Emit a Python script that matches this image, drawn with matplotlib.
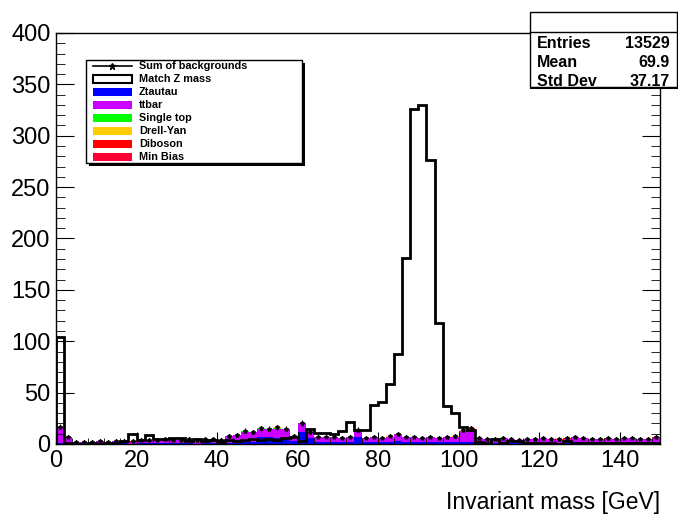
import numpy as np
import matplotlib
matplotlib.use("Agg")
import matplotlib.pyplot as plt
from matplotlib.patches import Rectangle
from matplotlib.lines import Line2D

plt.rcParams['font.family'] = ['Liberation Sans', 'DejaVu Sans']

# binning: 75 bins of 2 GeV from 0 to 150
edges = np.arange(0, 152, 2)

# signal histogram (Match Z mass)
match_z = [104, 1, 0, 0, 1, 0, 1, 1, 3, 10,
           4, 9, 5, 5, 6, 6, 3, 5, 3, 4,
           2, 4, 3, 4, 5, 4, 5, 4, 6, 7,
           3, 15, 11, 11, 10, 13, 21, 14, 14, 38,
           41, 58, 88, 181, 326, 330, 276, 118, 37, 30,
           17, 14, 2, 1, 5, 1, 3, 3, 1, 1,
           1, 1, 0, 3, 1, 1, 1, 1, 1, 1,
           1, 1, 1, 1, 1]

# background components, bottom of the stack first
ztautau = [1, 0, 0, 0, 0, 1, 0, 1, 1, 0,
           1, 1, 1, 1, 1, 1, 1, 0, 1, 1,
           1, 1, 1, 2, 2, 7, 7, 6, 6, 3,
           12, 6, 2, 2, 2, 2, 2, 7, 2, 2,
           2, 2, 3, 2, 2, 2, 2, 2, 2, 2,
           2, 2, 2, 1, 1, 2, 1, 1, 1, 1,
           1, 1, 1, 1, 2, 1, 1, 1, 1, 1,
           1, 2, 1, 1, 1]
ttbar = [15, 6, 2, 2, 2, 2, 2, 2, 2, 2,
         3, 3, 3, 4, 3, 3, 4, 4, 4, 4,
         3, 7, 8, 10, 10, 8, 8, 9, 9, 5,
         8, 6, 5, 5, 5, 4, 5, 7, 4, 5,
         4, 5, 7, 5, 5, 4, 5, 4, 5, 5,
         11, 12, 4, 4, 4, 4, 4, 3, 4, 4,
         5, 4, 3, 4, 5, 5, 4, 4, 4, 4,
         5, 4, 4, 4, 5]
single_top = [0, 0, 0, 0, 0, 0, 0, 0, 0, 0,
              0, 0, 0, 0, 0, 0, 0, 0, 0, 0,
              0.3, 0, 0, 1, 0, 0.5, 0, 0.3, 0, 0,
              0, 0, 0, 0, 0, 0, 0, 0, 0, 0,
              0.3, 0, 0, 0, 0, 0, 0, 0, 0, 0,
              0, 0, 0, 0, 0, 0, 0, 0, 0, 0,
              0, 0, 0, 0, 0, 0, 0, 0, 0, 0,
              0, 0, 0, 0, 0]
drell_yan = [0, 0, 0, 0, 0, 0, 0, 0, 0, 0,
             0, 0, 0, 0, 0, 0, 0, 0, 0, 0,
             0, 0, 0, 0, 0, 0, 0, 1, 0, 0,
             0.3, 0, 0, 0, 0, 0, 0, 0, 0, 0,
             0, 0.7, 0, 0, 0, 0, 0, 0, 0, 0.6,
             0.5, 0, 0, 0, 0, 0, 0, 0, 0, 0,
             0, 0, 0, 0, 0, 0, 0, 0, 0, 0,
             0, 0, 0, 0, 0]
diboson = [0, 1, 0, 0, 0, 0, 0, 0, 0, 0.7,
           0, 0, 0, 0, 0, 0, 0, 0, 0, 0,
           0, 0, 0, 0, 0, 0, 0, 0, 0, 0,
           0, 0, 0, 0, 0, 0, 0, 0, 0, 0,
           0, 0.5, 0, 0, 0, 0, 0, 0, 0, 0,
           0, 1.5, 0, 0, 0, 0, 0, 0, 0, 0,
           0, 0, 0.7, 1, 0, 0, 0, 0, 0.7, 0,
           0, 0, 0, 0, 0.7]
min_bias = [1, 0, 0, 0, 0, 0, 0, 0, 0, 0,
            0, 0, 0, 0, 0, 0, 0, 0, 0, 0,
            0, 0, 0, 0, 0, 0, 0, 0, 0, 0,
            0, 0, 0, 0, 0, 0, 0, 0, 0, 0,
            0, 0, 0, 0, 0, 0, 0, 0, 0, 0,
            0, 0, 0, 0, 0, 0, 0, 0, 0, 0,
            0, 0, 0, 0, 0, 0, 0, 0, 0, 0,
            0, 0, 0, 0, 0]

bkg_names = ["Ztautau", "ttbar", "Single top", "Drell-Yan", "Diboson", "Min Bias"]
bkg_values = [ztautau, ttbar, single_top, drell_yan, diboson, min_bias]
bkg_colors = ["#0000ff", "#cc00ff", "#00ff00", "#ffcc00", "#ff0000", "#ff0033"]

stats_labels = ["Entries", "Mean", "Std Dev"]
stats_values = ["13529", "69.9", "37.17"]

W, H = 678, 514
fig = plt.figure(figsize=(W / 100, H / 100), dpi=100)
ax = fig.add_axes([56 / W, 1 - 444 / H, 604 / W, 411 / H])

# stacked backgrounds
bottom = np.zeros(len(edges) - 1)
for vals, col in zip(bkg_values, bkg_colors):
    top = bottom + np.array(vals, dtype=float)
    ax.stairs(top, edges, baseline=bottom, fill=True, color=col, lw=0)
    bottom = top
bkg_total = bottom

# sum of backgrounds as points with errors
centers = 0.5 * (edges[:-1] + edges[1:])
ax.errorbar(centers, bkg_total, yerr=0.6 * np.sqrt(bkg_total), fmt='*', color='black',
            ms=3, elinewidth=0.8, capsize=0, zorder=4)

ax.stairs(match_z, edges, color='black', lw=2, zorder=5)

ax.set_xlim(0, 150)
ax.set_ylim(0, 400)
ax.set_xticks(np.arange(0, 150, 20))
ax.set_xticks(np.arange(0, 151, 4), minor=True)
ax.set_yticks(np.arange(0, 401, 50))
ax.set_yticks(np.arange(0, 401, 10), minor=True)
ax.tick_params(axis='y', which='both', direction='in', right=True, labelsize=17, pad=4)
ax.tick_params(axis='y', which='major', length=13)
ax.tick_params(axis='y', which='minor', length=6.5)
ax.tick_params(axis='x', which='both', direction='in', labelsize=17, pad=4)
ax.tick_params(axis='x', which='major', length=9)
ax.tick_params(axis='x', which='minor', length=4.5)
for s in ax.spines.values():
    s.set_linewidth(1)
ax.set_xlabel("Invariant mass [GeV]", fontsize=16.5, loc='right', labelpad=14)


def fx(px):
    return px / W


def fy(py):
    return 1 - py / H


def box(x0, y0, x1, y1, **kw):
    fig.add_artist(Rectangle((fx(x0), fy(y1)), (x1 - x0) / W, (y1 - y0) / H,
                             transform=fig.transFigure, **kw))


# legend with drop shadow
box(89, 63, 305, 166, facecolor='black', edgecolor='none', zorder=9)
box(86, 60, 302, 163, facecolor='white', edgecolor='black', lw=1, zorder=10)
row_y = [66 + 13 * k for k in range(8)]
fig.add_artist(Line2D([fx(93), fx(132)], [fy(row_y[0]), fy(row_y[0])], color='black', lw=1.2,
                      transform=fig.transFigure, zorder=11))
fig.add_artist(Line2D([fx(112)], [fy(row_y[0])], marker='*', ms=5, color='black',
                      transform=fig.transFigure, zorder=11))
box(93, row_y[1] - 4, 132, row_y[1] + 4, facecolor='white', edgecolor='black', lw=1.5, zorder=11)
for k, col in enumerate(bkg_colors):
    y = row_y[k + 2]
    box(93, y - 4, 132, y + 4, facecolor=col, edgecolor='none', zorder=11)
for k, name in enumerate(["Sum of backgrounds", "Match Z mass"] + bkg_names):
    fig.text(fx(139), fy(row_y[k]), name, fontsize=7.8, fontweight='bold',
             va='center', ha='left', zorder=12)

# statistics box
box(530, 12, 677, 87, facecolor='white', edgecolor='black', lw=1, zorder=10)
fig.add_artist(Line2D([fx(530), fx(677)], [fy(32), fy(32)], color='black', lw=1,
                      transform=fig.transFigure, zorder=11))
fig.add_artist(Line2D([fx(531), fx(677)], [fy(87.5), fy(87.5)], color='black', lw=1.5,
                      transform=fig.transFigure, zorder=11))
for k, (lab, val) in enumerate(zip(stats_labels, stats_values)):
    y = fy(43 + 19.5 * k)
    fig.text(fx(537), y, lab, fontsize=11.5, fontweight='bold', va='center', ha='left', zorder=12)
    fig.text(fx(670), y, val, fontsize=11.5, fontweight='bold', va='center', ha='right', zorder=12)

fig.savefig("out.png", dpi=100)
